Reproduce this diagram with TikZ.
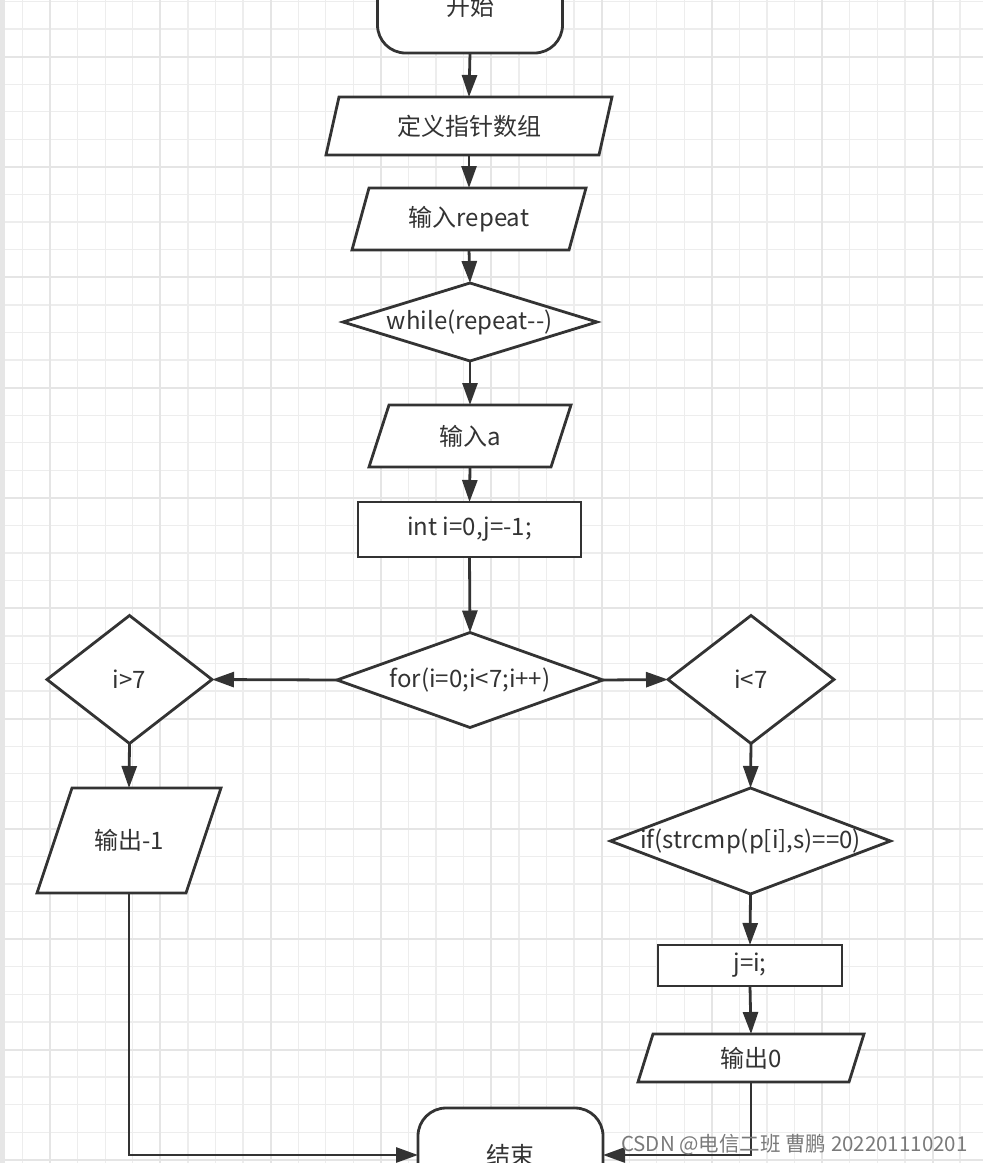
\documentclass[tikz,border=0pt]{standalone}
\usepackage{fontspec}
\setmainfont{Noto Sans CJK SC}
\usetikzlibrary{arrows.meta,shapes.geometric,calc}
\definecolor{linec}{HTML}{333333}
\definecolor{gridminor}{HTML}{EDEDED}
\definecolor{gridmajor}{HTML}{E5E5E5}
\definecolor{stripc}{HTML}{E6E6E6}
\definecolor{wmc}{HTML}{7A7A7A}
% name, x, y, body width, height, skew, text
\newcommand\ioshape[7]{%
  \path[iofill] ({#2-#4/2-#6/2},{#3+#5/2}) -- ({#2+#4/2-#6/2},{#3+#5/2})
     -- ({#2+#4/2+#6/2},{#3-#5/2}) -- ({#2-#4/2+#6/2},{#3-#5/2}) -- cycle;
  \node[iotext, minimum width=#4pt, minimum height=#5pt] (#1) at (#2,#3) {#7};
}
\begin{document}
\begin{tikzpicture}[x=1pt,y=-1pt,
  txt/.style={text=linec, font=\fontsize{24}{28}\selectfont},
  base/.style={txt, draw=linec, line width=2.8pt, fill=white, inner sep=0pt, outer sep=0pt},
  term/.style={base, rectangle, rounded corners=28pt, minimum width=185pt, minimum height=94pt},
  proc/.style={base, rectangle},
  dec/.style={base, diamond},
  iofill/.style={draw=linec, line width=2.8pt, fill=white, line join=miter},
  iotext/.style={txt, inner sep=0pt, outer sep=0pt},
  flow/.style={draw=linec, line width=2.8pt, -{Triangle[length=22pt,width=15pt]}},
  gminor/.style={draw=gridminor, line width=1.3pt},
  gmajor/.style={draw=gridmajor, line width=2pt},
  wm/.style={text=wmc, font=\fontsize{20.5}{22}\selectfont, inner sep=0pt},
]
\useasboundingbox (0,0) rectangle (983,1163);
\clip (0,0) rectangle (983,1163);
\fill[white] (0,0) rectangle (983,1163);
% grid
\foreach \i in {0,...,35} { \draw[gminor] ({22.42+27.58*\i},0) -- ({22.42+27.58*\i},1163); }
\foreach \i in {0,...,43} { \draw[gminor] (0,{1.5+27.58*\i}) -- (983,{1.5+27.58*\i}); }
\foreach \i in {0,...,8} { \draw[gmajor] ({50+110.32*\i},0) -- ({50+110.32*\i},1163); }
\foreach \i in {0,...,10} { \draw[gmajor] (0,{56.7+110.32*\i}) -- (983,{56.7+110.32*\i}); }
\fill[stripc] (0,0) rectangle (5,1163);

% nodes
\node[term] (start) at (470,6) {开始};
\ioshape{p1}{469}{126}{273}{58}{13}{定义指针数组}
\ioshape{p2}{469}{219}{217}{62}{17}{输入repeat}
\node[dec, minimum width=254pt, minimum height=78pt] (wh) at (470,322) {\makebox[0pt]{while(repeat-\kern1pt-)}};
\ioshape{p3}{470}{436}{182}{62}{20}{输入a}
\node[proc, minimum width=223pt, minimum height=55pt] (init) at (469.5,529.5) {int i=0,j=-1;};
\node[dec, minimum width=266pt, minimum height=95pt] (for) at (470,680) {\makebox[0pt]{for(i=0;i<7;i++)}};
\node[dec, minimum width=165pt, minimum height=128pt] (gt) at (129.5,679.5) {\makebox[0pt]{i>7}};
\node[dec, minimum width=166pt, minimum height=128pt] (lt) at (751,679.5) {\makebox[0pt]{i<7}};
\ioshape{p4}{129}{840.5}{149}{105}{35}{输出-1}
\node[dec, minimum width=280pt, minimum height=106pt] (if) at (750.5,841) {\makebox[0pt]{if(strcmp(p[i],s)==0)}};
\node[proc, minimum width=184pt, minimum height=41pt] (assign) at (750,965.5) {j=i;};
\ioshape{p5}{751}{1058}{211}{48}{15}{输出0}
\node[term] (stop) at (510.5,1155) {结束};

% connectors
\draw[flow] (start.south) -- (p1.north);
\draw[flow] (p1.south) -- (p2.north);
\draw[flow] (p2.south) -- (wh.north);
\draw[flow] (wh.south) -- (p3.north);
\draw[flow] (p3.south) -- (init.north);
\draw[flow] (init.south) -- (for.north);
\draw[flow] (for.west) -- (gt.east);
\draw[flow] (for.east) -- (lt.west);
\draw[flow] (gt.south) -- (p4.north);
\draw[flow] (lt.south) -- (if.north);
\draw[flow] (if.south) -- (assign.north);
\draw[flow] (assign.south) -- (p5.north);
\draw[flow] (p4.south) |- (stop.west);
\draw[flow] (p5.south) |- (stop.east);

\node[wm, anchor=base west] (mark) at (621,1151) {CSDN @电信二班 曹鹏 202201110201};
\end{tikzpicture}
\end{document}
